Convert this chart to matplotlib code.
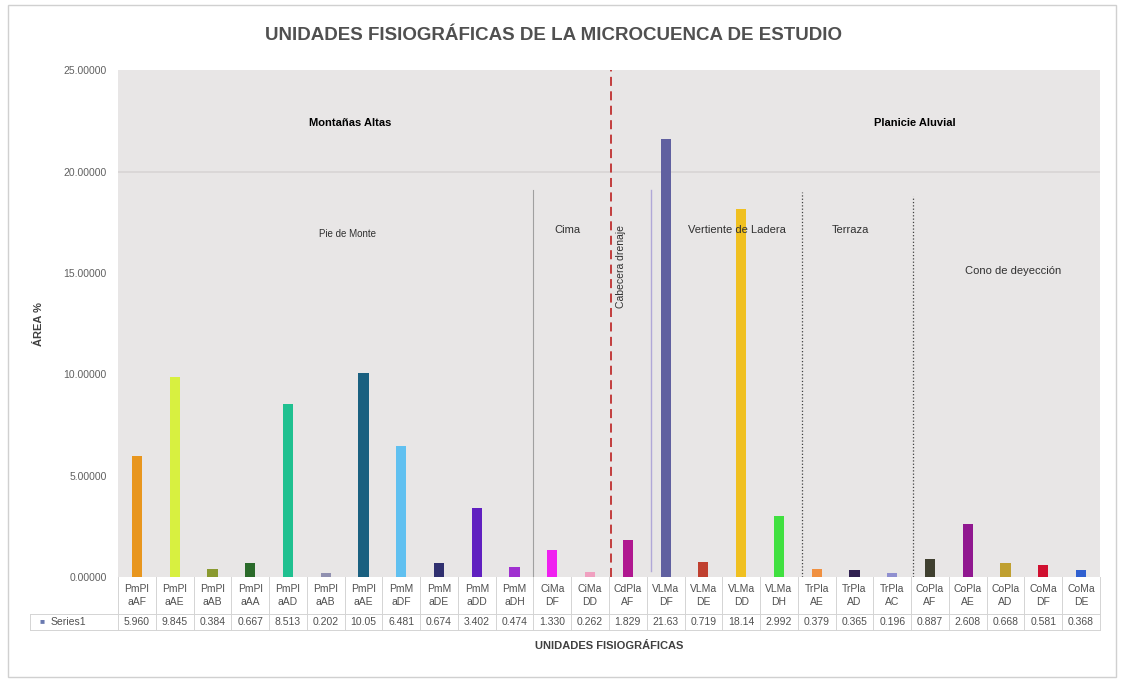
import matplotlib
matplotlib.use('Agg')
import matplotlib.pyplot as plt
import matplotlib.transforms as mtransforms
from matplotlib.patches import Rectangle

plt.rcParams['font.family'] = ['Liberation Sans Narrow', 'Liberation Sans', 'DejaVu Sans']

# data
categories = ['PmPl\naAF', 'PmPl\naAE', 'PmPl\naAB', 'PmPl\naAA', 'PmPl\naAD', 'PmPl\naAB',
              'PmPl\naAE', 'PmM\naDF', 'PmM\naDE', 'PmM\naDD', 'PmM\naDH', 'CiMa\nDF',
              'CiMa\nDD', 'CdPla\nAF', 'VLMa\nDF', 'VLMa\nDE', 'VLMa\nDD', 'VLMa\nDH',
              'TrPla\nAE', 'TrPla\nAD', 'TrPla\nAC', 'CoPla\nAF', 'CoPla\nAE', 'CoPla\nAD',
              'CoMa\nDF', 'CoMa\nDE']
values = [5.960, 9.845, 0.384, 0.667, 8.513, 0.202, 10.05, 6.481, 0.674, 3.402, 0.474, 1.330,
          0.262, 1.829, 21.63, 0.719, 18.14, 2.992, 0.379, 0.365, 0.196, 0.887, 2.608, 0.668,
          0.581, 0.368]
value_labels = ['5.960', '9.845', '0.384', '0.667', '8.513', '0.202', '10.05', '6.481', '0.674',
                '3.402', '0.474', '1.330', '0.262', '1.829', '21.63', '0.719', '18.14', '2.992',
                '0.379', '0.365', '0.196', '0.887', '2.608', '0.668', '0.581', '0.368']
colors = ['#E8961E', '#D8F040', '#8A9A30', '#2A6A2A', '#20C090', '#9090B0', '#1A6080', '#60C0F0',
          '#303070', '#6020C0', '#A030D0', '#F020F0', '#F0A0C0', '#B01890', '#6060A0', '#C04030',
          '#F0C020', '#40E040', '#F09040', '#302050', '#9090D0', '#404030', '#901890', '#C0A030',
          '#D01030', '#3060D0']
yticks = [0, 5, 10, 15, 20, 25]

fig = plt.figure(figsize=(11.24, 6.82), dpi=100)
fig.patches.append(Rectangle((0.007, 0.007), 0.986, 0.986, transform=fig.transFigure,
                             fill=False, edgecolor='#d0d0d0', linewidth=1))
ax = fig.add_axes([0.105, 0.154, 0.8736, 0.743])
ax.set_facecolor('#E8E6E6')

n = len(categories)
x = list(range(n))
ax.bar(x, values, width=0.27, color=colors, zorder=3)
ax.axhline(20, color='#d8d5d5', linewidth=1.2, zorder=1)

ax.set_xlim(-0.5, n - 0.5)
ax.set_ylim(0, 25)
ax.set_yticks(yticks)
ax.set_yticklabels(['%.5f' % t for t in yticks], fontsize=7.5, color='#606060')
ax.set_xticks([])
ax.tick_params(axis='y', length=0, pad=8)
for s in ax.spines.values():
    s.set_visible(False)

# division lines
ax.plot([10.5, 10.5], [0, 19.1], color='#a0a0a0', linewidth=0.8, zorder=2)
ax.plot([12.55, 12.55], [0, 25], color='#c03030', linewidth=1.3, linestyle=(0, (5, 3)), zorder=4)
ax.plot([13.6, 13.6], [0.3, 19.1], color='#b0a8d8', linewidth=1, zorder=2)
ax.plot([17.6, 17.6], [0, 19], color='#404040', linewidth=0.9, linestyle=':', zorder=2)
ax.plot([20.55, 20.55], [0, 18.8], color='#404040', linewidth=0.9, linestyle=':', zorder=2)

# annotations
ax.text(5.64, 22.4, 'Montañas Altas', fontsize=8, fontweight='bold', ha='center', va='center')
ax.text(20.6, 22.4, 'Planicie Aluvial', fontsize=8, fontweight='bold', ha='center', va='center')
ax.text(5.58, 16.9, 'Pie de Monte', fontsize=7, ha='center', va='center', color='#303030')
ax.text(11.4, 17.1, 'Cima', fontsize=8, ha='center', va='center', color='#303030')
ax.text(15.9, 17.1, 'Vertiente de Ladera', fontsize=8, ha='center', va='center', color='#303030')
ax.text(18.9, 17.1, 'Terraza', fontsize=8, ha='center', va='center', color='#303030')
ax.text(23.2, 15.1, 'Cono de deyección', fontsize=8, ha='center', va='center', color='#303030')
ax.text(12.83, 15.3, 'Cabecera drenaje', fontsize=7.5, rotation=90, ha='center', va='center',
        color='#303030')

# data table drawn under the axes (x in data units, y in axes units)
trans = mtransforms.blended_transform_factory(ax.transData, ax.transAxes)
h1 = 37 / 507.0
h2 = 53 / 507.0
rl_left = -0.5 - 88 / 37.8
grid_kw = dict(color='#d4d4d4', linewidth=0.7, transform=trans, clip_on=False)
ax.plot([-0.5, n - 0.5], [-h1, -h1], **grid_kw)
ax.plot([rl_left, n - 0.5], [-h2, -h2], **grid_kw)
ax.plot([rl_left, -0.5], [-h1, -h1], **grid_kw)
ax.plot([rl_left, rl_left], [-h1, -h2], **grid_kw)
for i in range(n + 1):
    ax.plot([i - 0.5, i - 0.5], [0, -h2], **grid_kw)
for i in range(n):
    ax.text(i, -h1 / 2, categories[i], transform=trans, ha='center', va='center',
            fontsize=7.5, color='#505050', linespacing=1.3)
    ax.text(i, -(h1 + h2) / 2, value_labels[i], transform=trans, ha='center', va='center',
            fontsize=7.5, color='#505050')
ax.text(rl_left + 0.25, -(h1 + h2) / 2, '\u25a0', transform=trans, ha='left', va='center',
        fontsize=6, color='#6a7ab0')
ax.text(rl_left + 0.55, -(h1 + h2) / 2, 'Series1', transform=trans, ha='left', va='center',
        fontsize=7.5, color='#505050')

ax.set_xlabel('UNIDADES FISIOGRÁFICAS', fontsize=8, fontweight='bold', color='#404040',
              labelpad=46)
ax.set_ylabel('ÁREA %', fontsize=8, fontweight='bold', color='#404040', labelpad=14)
fig.text(0.492, 0.948, 'UNIDADES FISIOGRÁFICAS DE LA MICROCUENCA DE ESTUDIO', fontsize=13.5,
         fontweight='bold', color='#505050', ha='center', va='center')

fig.savefig('out.png', dpi=100, facecolor='white')
